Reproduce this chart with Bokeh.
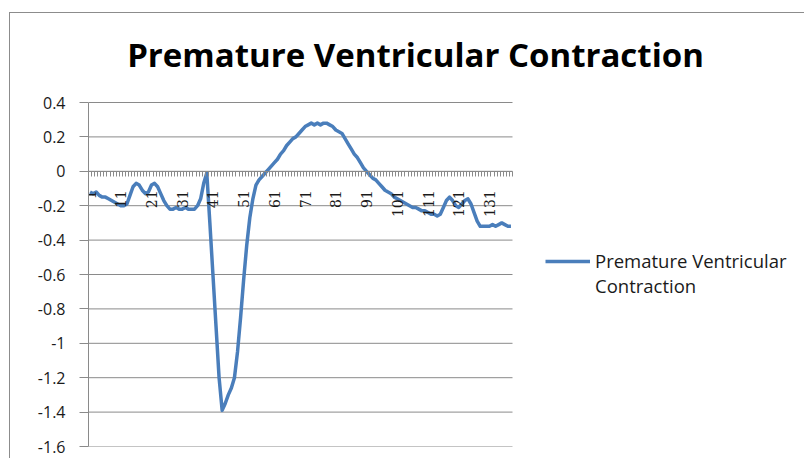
import math
from bokeh.plotting import figure
from bokeh.models import Range1d, FixedTicker, Legend, LegendItem, Label
from bokeh.embed import file_html
from bokeh.resources import INLINE

title_text = "Premature Ventricular Contraction"
legend_lines = ["Premature Ventricular", "Contraction"]

values = [
    -0.12, -0.13, -0.12, -0.14, -0.15, -0.15, -0.16, -0.17, -0.18, -0.19,
    -0.20, -0.20, -0.19, -0.14, -0.09, -0.07, -0.08, -0.11, -0.13, -0.12,
    -0.08, -0.07, -0.09, -0.13, -0.17, -0.20, -0.22, -0.22, -0.21, -0.22,
    -0.22, -0.21, -0.22, -0.22, -0.22, -0.20, -0.16, -0.07, -0.01, -0.30,
    -0.60, -0.90, -1.20, -1.39, -1.35, -1.30, -1.26, -1.20, -1.05, -0.85,
    -0.63, -0.43, -0.27, -0.16, -0.08, -0.05, -0.03, -0.01, 0.01, 0.03,
    0.05, 0.07, 0.10, 0.12, 0.15, 0.17, 0.19, 0.20, 0.22, 0.24,
    0.26, 0.27, 0.28, 0.27, 0.28, 0.27, 0.28, 0.28, 0.27, 0.26,
    0.24, 0.23, 0.22, 0.19, 0.16, 0.13, 0.10, 0.08, 0.05, 0.02,
    0.00, -0.02, -0.04, -0.05, -0.07, -0.09, -0.11, -0.12, -0.13, -0.15,
    -0.16, -0.17, -0.18, -0.19, -0.20, -0.21, -0.21, -0.22, -0.23, -0.23,
    -0.24, -0.25, -0.25, -0.26, -0.25, -0.21, -0.17, -0.15, -0.17, -0.20,
    -0.21, -0.19, -0.17, -0.16, -0.19, -0.24, -0.29, -0.32, -0.32, -0.32,
    -0.32, -0.31, -0.32, -0.31, -0.30, -0.31, -0.32, -0.32,
]
categories = list(range(1, len(values) + 1))
x_label_cats = categories[::10]
y_ticks = [0.4, 0.2, 0.0, -0.2, -0.4, -0.6, -0.8, -1.0, -1.2, -1.4, -1.6]
y_tick_labels = ["0.4", "0.2", "0", "-0.2", "-0.4", "-0.6", "-0.8", "-1", "-1.2", "-1.4", "-1.6"]

N = len(categories)
LINE_COLOR = "#4A7EBB"
GRID_COLOR = "#8a8a8a"
TEXT_COLOR = "#1a1a1a"

FIG_W, FIG_H = 795, 446
BORDER_L, BORDER_B = 78, 13
PLOT_W, PLOT_H = 424, 344          # size of the plotting area in px
TOP_PAD = 89                       # px above the plotting area (title room)
FRAME_W = FIG_W - BORDER_L         # frame extends to the right edge to host the legend
x_lo, x_hi_data = 0.5, N + 0.5
x_hi_view = x_lo + (x_hi_data - x_lo) * FRAME_W / PLOT_W
y_lo, y_hi = min(y_ticks), max(y_ticks)
y_hi_view = y_hi + (y_hi - y_lo) * TOP_PAD / PLOT_H

p = figure(width=FIG_W, height=FIG_H, output_backend="svg", toolbar_location=None,
           x_range=Range1d(x_lo, x_hi_view), y_range=Range1d(y_lo, y_hi_view),
           min_border_left=BORDER_L, min_border_right=0,
           min_border_top=0, min_border_bottom=BORDER_B)
p.margin = (12, 0, 0, 9)
p.styles = {"border-left": "1px solid #8c8c8c", "border-top": "1px solid #8c8c8c"}
p.outline_line_color = None
p.outline_line_alpha = 0
p.background_fill_color = "white"
p.border_fill_color = "white"

# horizontal gridlines, limited to the category span
p.xgrid.grid_line_color = None
p.ygrid.grid_line_color = None
p.segment(x0=[x_lo] * len(y_ticks), x1=[x_hi_data] * len(y_ticks),
          y0=y_ticks, y1=y_ticks, line_color=GRID_COLOR, line_width=1)

r = p.line(categories, values, line_color=LINE_COLOR, line_width=3.5, line_join="round")
r_blank = p.line(categories, values, line_color=LINE_COLOR, line_alpha=0)

# y axis
yax = p.yaxis[0]
yax.bounds = (y_lo, y_hi)
yax.ticker = FixedTicker(ticks=y_ticks)
yax.major_label_overrides = {t: s for t, s in zip(y_ticks, y_tick_labels)}
yax.axis_line_color = GRID_COLOR
yax.major_tick_line_color = GRID_COLOR
yax.major_tick_out = 9
yax.major_tick_in = 0
yax.minor_tick_line_color = None
yax.major_label_standoff = 14
yax.major_label_text_font = "Open Sans"
yax.major_label_text_font_size = "16px"
yax.major_label_text_color = TEXT_COLOR

# x axis crossing at zero
xax = p.xaxis[0]
xax.fixed_location = 0
xax.bounds = (x_lo, x_hi_data)
xax.ticker = FixedTicker(ticks=x_label_cats,
                         minor_ticks=[c - 0.5 for c in categories] + [N + 0.5])
xax.axis_line_color = GRID_COLOR
xax.major_tick_out = 0
xax.major_tick_in = 0
xax.minor_tick_out = 5
xax.minor_tick_in = 0
xax.minor_tick_line_color = GRID_COLOR
xax.major_label_orientation = math.pi / 2
xax.major_label_standoff = 14
xax.major_label_text_font = "DejaVu Serif"
xax.major_label_text_font_size = "14px"
xax.major_label_text_color = TEXT_COLOR

# chart title
p.add_layout(Label(x=327, y=392, x_units="screen", y_units="screen", text=title_text,
                   text_align="center", text_baseline="alphabetic",
                   text_font="Open Sans", text_font_style="bold",
                   text_font_size="33px", text_color="#000000"))

legend = Legend(items=[LegendItem(label=legend_lines[0], renderers=[r]),
                       LegendItem(label=legend_lines[1], renderers=[r_blank])],
                location=(457, 148), orientation="vertical",
                glyph_width=45, glyph_height=20, label_height=20, label_standoff=5,
                spacing=0, padding=0, margin=0,
                label_text_font="Open Sans", label_text_font_size="18.5px",
                label_text_color=TEXT_COLOR,
                border_line_alpha=0, background_fill_alpha=0)
p.add_layout(legend, "center")

open("out.html", "w").write(file_html(p, INLINE))
